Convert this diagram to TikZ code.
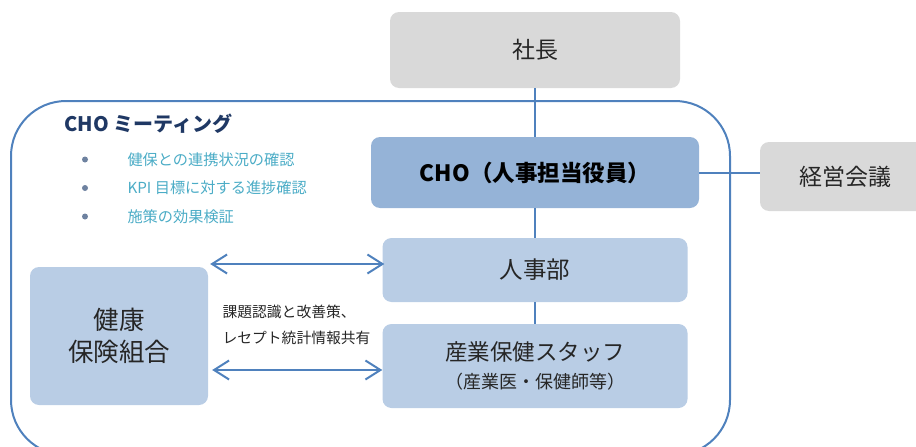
\documentclass[tikz,border=0pt]{standalone}
\usepackage{fontspec}
\setmainfont{Noto Sans CJK JP}
\usepackage{tikz}
\usepackage{xcolor}
\usetikzlibrary{arrows.meta, calc}
\definecolor{frameblue}{RGB}{79, 129, 189}
\definecolor{chofill}{RGB}{149, 179, 215}
\definecolor{deptfill}{RGB}{185, 205, 229}
\definecolor{boxgray}{RGB}{217, 217, 217}
\definecolor{titlenavy}{RGB}{31, 56, 100}
\definecolor{itemteal}{RGB}{75, 172, 198}
\definecolor{dotgray}{RGB}{110, 130, 160}
\tikzset{
    orgbox/.style={rectangle, rounded corners=9pt, inner sep=0pt, align=center, text=black!85},
    graybox/.style={orgbox, fill=boxgray, font=\fontsize{23}{27}\selectfont},
    chobox/.style={orgbox, fill=chofill, text=black, font=\fontsize{22.5}{26}\selectfont\bfseries},
    deptbox/.style={orgbox, fill=deptfill},
    link/.style={draw=frameblue, line width=2pt},
    share/.style={link, {Straight Barb[length=15pt,width=19pt]}-{Straight Barb[length=15pt,width=19pt]}},
    itemtext/.style={anchor=west, text=itemteal, font=\fontsize{15.2}{18}\selectfont},
    bulletdot/.style={circle, fill=dotgray, inner sep=0pt, minimum size=6pt}
}

\begin{document}
\begin{tikzpicture}[x=1pt, y=-1pt]
    \useasboundingbox (0,0) rectangle (916,447);
    \clip (0,0) rectangle (916,447);
    % CHO meeting frame
    \draw[frameblue, line width=2pt, rounded corners=55pt] (11,101) rectangle (730,455);
    \node[anchor=west, text=titlenavy, font=\fontsize{20}{24}\selectfont\bfseries] (meeting) at (61,124) {CHO ミーティング};
    \foreach \txt [count=\i] in {健保との連携状況の確認, KPI 目標に対する進捗確認, 施策の効果検証} {
        \node[bulletdot] (dot\i) at (85,131+28.5*\i) {};
        \node[itemtext] (item\i) at (124,131+28.5*\i) {\txt};
    }
    % boxes
    \node[graybox, minimum width=290pt, minimum height=76pt] (shacho) at (535,50) {社長};
    \node[chobox, minimum width=328pt, minimum height=71pt] (cho) at (535,172.5) {CHO（人事担当役員）};
    \node[graybox, minimum width=170pt, minimum height=69pt] (keiei) at (845,176.5) {経営会議};
    \node[deptbox, minimum width=305pt, minimum height=64pt, font=\fontsize{23.5}{27}\selectfont] (jinji) at (535,270) {人事部};
    \node[deptbox, minimum width=305pt, minimum height=84pt, font=\fontsize{22.5}{28}\selectfont] (sangyo) at (535,366)
        {産業保健スタッフ\\{\fontsize{18}{22}\selectfont （産業医・保健師等）}};
    \node[deptbox, minimum width=178pt, minimum height=138pt, font=\fontsize{25.5}{32}\selectfont] (kenpo) at (119,336) {健康\\保険組合};
    \node[anchor=west, align=left, text=black!85, font=\fontsize{14.8}{26}\selectfont] (sharenote) at (219,325)
        {課題認識と改善策、\\レセプト統計情報共有};
    % connectors
    \draw[link] (shacho) -- (cho);
    \draw[link] (cho) -- (jinji);
    \draw[link] (jinji) -- (sangyo);
    \draw[link] (cho.east) -- (keiei.west |- cho.east);
    \draw[share] ($(jinji.west -| kenpo.east)+(2pt,6pt)$) -- ($(jinji.west)+(2pt,6pt)$);
    \draw[share] ($(sangyo.west -| kenpo.east)+(4pt,-4pt)$) -- ($(sangyo.west)+(0pt,-4pt)$);
\end{tikzpicture}
\end{document}
